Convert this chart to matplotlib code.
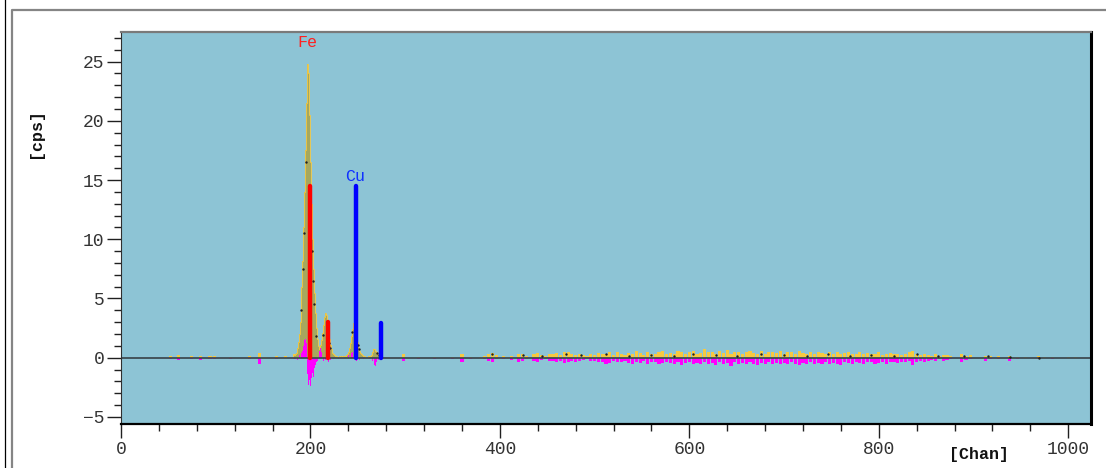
import matplotlib
matplotlib.use('Agg')
import matplotlib.pyplot as plt
from matplotlib.lines import Line2D
from matplotlib.ticker import MultipleLocator

# ---------------- data ----------------
# measured spectrum around the Fe / Cu peaks (channel, cps)
peak_ch = [183, 184, 185, 186, 187, 188, 189, 190, 191, 192, 193, 194, 195, 196, 197,
           198, 199, 200, 201, 202, 203, 204, 205, 206, 207, 208, 209, 210, 211, 212,
           213, 214, 215, 216, 217, 218, 219, 220, 221, 222, 223, 224, 225, 226, 227,
           228, 229, 230, 231, 232, 233, 234, 235, 236, 237, 238, 239, 240, 241, 242,
           243, 244, 245, 246, 247, 248, 249, 250, 251, 252, 253, 254, 255, 256, 257,
           258, 259, 260, 261, 262, 263, 264, 265, 266, 267, 268, 269, 270, 271, 272,
           273, 274, 275, 276]
peak_cps = [0.2, 0.3, 0.4, 0.8, 1.3, 2.0, 3.0, 4.3, 6.0, 8.2, 11.0, 14.0, 17.5, 21.5, 24.8,
            24.0, 20.5, 16.5, 13.0, 10.0, 7.5, 5.5, 3.8, 2.5, 1.6, 1.0, 0.7, 0.8, 1.1, 1.5,
            2.1, 2.8, 3.4, 3.8, 3.6, 3.0, 2.3, 1.6, 1.1, 0.7, 0.4, 0.3, 0.2, 0.15, 0.1,
            0.1, 0.05, 0.05, 0.1, 0.05, 0.1, 0.05, 0.1, 0.1, 0.15, 0.2, 0.3, 0.5, 0.8, 1.2,
            1.8, 2.4, 2.9, 3.1, 2.9, 2.4, 1.8, 1.3, 0.9, 0.6, 0.4, 0.3, 0.2, 0.1, 0.1,
            0.05, 0.05, 0.05, 0.1, 0.1, 0.15, 0.2, 0.35, 0.5, 0.7, 0.75, 0.6, 0.45, 0.3, 0.2,
            0.15, 0.1, 0.1, 0.05]

# residual (fit difference) around the peaks
resid_ch = [186, 188, 190, 191, 192, 193, 194, 195, 196, 197, 198, 199, 200, 201, 202,
            203, 204, 205, 206, 207, 209, 210, 211, 212, 214, 216, 219, 221, 224, 230,
            240, 243, 244, 247, 249, 252, 256, 262, 266, 268, 269, 270, 272, 276]
resid_cps = [-0.2, 0.2, -0.3, 0.4, 0.6, 1.0, 1.5, 1.6, 1.2, -1.4, -2.3, -1.9, -2.4, -1.7, -1.3,
             -1.6, -0.9, -0.6, -0.4, -0.3, 0.3, 0.6, 0.8, 0.5, -0.3, -0.2, -0.4, -0.2, -0.1, -0.1,
             0.2, 0.4, 0.5, -0.5, -0.3, -0.2, -0.15, -0.1, -0.3, -0.6, -0.7, -0.4, -0.2, -0.1]

# background noise: positive counts (yellow) and negative residual (magenta)
noise_ch = [52, 61, 74, 84, 94, 99, 116, 136, 146, 152, 164, 174, 183, 298, 314, 331, 350, 360, 369,
            380, 384, 388, 392, 396, 400, 404, 408, 412, 416,
            420, 424, 428, 432, 436, 440, 444, 448, 452, 456,
            460, 464, 468, 472, 476, 480, 484, 488, 492, 496,
            500, 504, 508, 512, 516, 520, 524, 528, 532, 536,
            540, 544, 548, 552, 556, 560, 564, 568, 572, 576,
            580, 584, 588, 592, 596, 600, 604, 608, 612, 616,
            620, 624, 628, 632, 636, 640, 644, 648, 652, 656,
            660, 664, 668, 672, 676, 680, 684, 688, 692, 696,
            700, 704, 708, 712, 716, 720, 724, 728, 732, 736,
            740, 744, 748, 752, 756, 760, 764, 768, 772, 776,
            780, 784, 788, 792, 796, 800, 804, 808, 812, 816,
            820, 824, 828, 832, 836, 840, 844, 848, 852, 856,
            860, 864, 868, 872, 876,
            887, 892, 897, 913, 918, 926, 938, 946, 955, 969, 975, 983, 1000, 1008]
noise_pos = [0.1, 0.2, 0.1, 0.15, 0.1, 0.1, 0.05, 0.1, 0.4, 0.05, 0.15, 0.1, 0.3, 0.3, 0.05, 0.05, 0.05, 0.3, 0.05,
             0.05, 0.1, 0.3, 0.4, 0.2, 0.0, 0.1, 0.05, 0.15, 0.0,
             0.3, 0.35, 0.1, 0.0, 0.3, 0.4, 0.25, 0.1, 0.35, 0.3,
             0.4, 0.2, 0.45, 0.5, 0.3, 0.2, 0.35, 0.25, 0.1, 0.3,
             0.2, 0.4, 0.35, 0.3, 0.5, 0.25, 0.45, 0.3, 0.2, 0.4,
             0.3, 0.55, 0.4, 0.25, 0.5, 0.35, 0.3, 0.45, 0.6, 0.35,
             0.4, 0.3, 0.55, 0.45, 0.3, 0.5, 0.6, 0.35, 0.4, 0.7,
             0.45, 0.5, 0.3, 0.55, 0.4, 0.65, 0.35, 0.5, 0.45, 0.3,
             0.5, 0.6, 0.4, 0.35, 0.55, 0.3, 0.45, 0.5, 0.4, 0.6,
             0.35, 0.5, 0.45, 0.3, 0.55, 0.4, 0.35, 0.5, 0.3, 0.45,
             0.4, 0.3, 0.5, 0.35, 0.45, 0.3, 0.4, 0.5, 0.35, 0.3,
             0.45, 0.3, 0.4, 0.35, 0.3, 0.5, 0.25, 0.35, 0.4, 0.3,
             0.35, 0.25, 0.3, 0.45, 0.6, 0.3, 0.25, 0.35, 0.2, 0.15,
             0.3, 0.1, 0.25, 0.2, 0.1,
             0.3, 0.1, 0.2, 0.15, 0.1, 0.1, 0.15, 0.05, 0.05, 0.1, 0.05, 0.05, 0.05, 0.05]
noise_neg = [-0.15, -0.2, -0.15, -0.2, -0.15, -0.15, -0.1, -0.15, -0.5, -0.05, -0.15, -0.05, -0.15, -0.3, -0.1, -0.15, -0.1, -0.35, -0.1,
             -0.05, -0.1, -0.25, -0.35, -0.15, 0.0, -0.1, -0.05, -0.2, 0.0,
             -0.35, -0.3, -0.1, 0.0, -0.25, -0.35, -0.2, -0.1, -0.3, -0.25,
             -0.35, -0.3, -0.45, -0.4, -0.3, -0.35, -0.3, -0.2, -0.15, -0.25,
             -0.3, -0.4, -0.35, -0.5, -0.45, -0.3, -0.4, -0.35, -0.3, -0.45,
             -0.5, -0.35, -0.45, -0.3, -0.55, -0.4, -0.35, -0.5, -0.45, -0.4,
             -0.45, -0.55, -0.4, -0.6, -0.45, -0.35, -0.5, -0.45, -0.55, -0.4,
             -0.5, -0.45, -0.6, -0.4, -0.55, -0.45, -0.7, -0.4, -0.5, -0.45,
             -0.55, -0.4, -0.5, -0.65, -0.45, -0.5, -0.4, -0.55, -0.45, -0.5,
             -0.45, -0.55, -0.4, -0.5, -0.6, -0.45, -0.5, -0.4, -0.55, -0.45,
             -0.5, -0.4, -0.55, -0.45, -0.5, -0.6, -0.4, -0.45, -0.5, -0.4,
             -0.45, -0.5, -0.4, -0.35, -0.5, -0.45, -0.4, -0.55, -0.35, -0.4,
             -0.45, -0.35, -0.4, -0.3, -0.65, -0.35, -0.3, -0.4, -0.3, -0.2,
             -0.3, -0.15, -0.25, -0.2, -0.1,
             -0.35, -0.2, -0.15, -0.25, -0.15, -0.1, -0.3, -0.1, -0.05, -0.15, -0.05, -0.1, -0.05, -0.05]

# fit points (black dots)
dot_ch = [190, 192, 193, 195, 202, 203, 204, 206, 213, 219, 220, 221,
          244, 250, 251, 270, 272, 392, 424, 444, 470, 486, 512, 536, 560, 584, 604,
          628, 650, 676, 700, 724, 746, 770, 792, 816, 840, 862, 890, 915, 938, 969]
dot_cps = [4.0, 7.5, 10.5, 16.5, 9.0, 6.5, 4.5, 1.8, 1.9, 2.0, 1.2, 0.8,
           2.2, 1.1, 0.7, 0.4, 0.2, 0.3, 0.25, 0.1, 0.3, 0.2, 0.3, 0.1, 0.25, 0.15, 0.3,
           0.2, 0.1, 0.3, 0.2, 0.1, 0.3, 0.15, 0.2, 0.1, 0.3, 0.15, 0.1, 0.1, 0.05, 0.0]

# element marker lines
fe_ch = [199, 218]
fe_cps = [14.5, 3.0]
cu_ch = [248, 274]
cu_cps = [14.5, 2.9]
labels = ['Fe', 'Cu']
label_ch = [197, 247]
label_cps = [26.6, 15.3]

x_ticks = [0, 200, 400, 600, 800, 1000]
y_ticks = [-5, 0, 5, 10, 15, 20, 25]

# ---------------- plot ----------------
BG = '#8DC4D5'
OLIVE = '#A6A85E'
GOLD = '#F7C940'
MAG = '#FF00FF'
MONO = 'Liberation Mono'

fig = plt.figure(figsize=(11.06, 4.68), dpi=100)
ax = fig.add_axes([121 / 1106, 1 - 424 / 468, (1091 - 121) / 1106, (424 - 32) / 468])
ax.set_facecolor(BG)

# noise bars
ax.bar(noise_ch, noise_pos, width=3.3, color=GOLD, linewidth=0, zorder=2)
ax.bar(noise_ch, noise_neg, width=3.3, color=MAG, linewidth=0, zorder=2)

# peaks
ax.fill_between(peak_ch, 0, peak_cps, step='mid', color=OLIVE, linewidth=0, zorder=3)
ax.step(peak_ch, peak_cps, where='mid', color=GOLD, linewidth=0.6, zorder=3)
ax.bar(resid_ch, resid_cps, width=1.0, color=MAG, linewidth=0, zorder=4)

# fit dots
ax.scatter(dot_ch, dot_cps, s=3, color='#202020', zorder=5, linewidths=0)

# zero line
ax.axhline(0, color='#3E4B52', linewidth=1.3, zorder=4)

# element lines
ax.vlines(fe_ch, 0, fe_cps, colors='#FF0000', linewidth=3.2, zorder=6, capstyle='round')
ax.vlines(cu_ch, 0, cu_cps, colors='#0000FF', linewidth=3.2, zorder=6, capstyle='round')
ax.text(label_ch[0], label_cps[0], labels[0], color='#FF2020', fontsize=12,
        family=MONO, ha='center', va='center', zorder=7)
ax.text(label_ch[1], label_cps[1], labels[1], color='#1030FF', fontsize=12,
        family=MONO, ha='center', va='center', zorder=7)

ax.set_xlim(0, 1024)
ax.set_ylim(-5.6, 27.5)

ax.set_xticks(x_ticks)
ax.set_yticks(y_ticks)
ax.xaxis.set_minor_locator(MultipleLocator(40))
ax.yaxis.set_minor_locator(MultipleLocator(1))
ax.set_xticklabels([str(v) for v in x_ticks], family=MONO, fontsize=13, color='#333333')
ax.set_yticklabels([str(v).replace('-', '\u2212') for v in y_ticks], family=MONO, fontsize=13, color='#333333')
ax.tick_params(axis='both', which='major', direction='out', length=10, width=1, color='#202020')
ax.tick_params(axis='both', which='minor', direction='out', length=5, width=1, color='#202020')
ax.tick_params(axis='x', which='major', pad=2)
ax.tick_params(axis='y', which='major', pad=2)

for side, col, lw in [('top', '#7A7A7A', 1.6), ('left', '#303030', 0.8),
                      ('bottom', '#000000', 1.6), ('right', '#000000', 2.2)]:
    ax.spines[side].set_color(col)
    ax.spines[side].set_linewidth(lw)
    ax.spines[side].set_zorder(8)

# axis titles
fig.text(35 / 1106, 1 - 133 / 468, '[cps]', rotation=90, family=MONO, fontweight='bold',
         fontsize=12, ha='center', va='center', color='#111111')
fig.text(979 / 1106, 1 - 455 / 468, '[Chan]', family=MONO, fontweight='bold',
         fontsize=12, ha='center', va='center', color='#111111')

# outer frame
fig.add_artist(Line2D([5 / 1106, 5 / 1106], [0, 1], color='#000000', linewidth=0.9,
                      transform=fig.transFigure))
fig.add_artist(Line2D([12 / 1106, 12 / 1106, 1], [0, 1 - 10 / 468, 1 - 10 / 468],
                      color='#858585', linewidth=1.6, transform=fig.transFigure))

fig.savefig('out.png', dpi=100)
